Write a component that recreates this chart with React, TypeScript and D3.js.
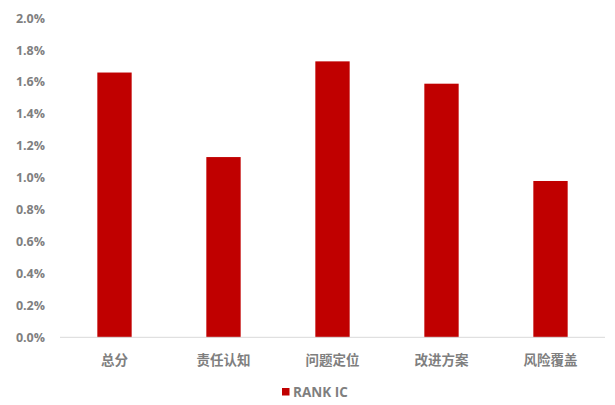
import React from "react";
import * as d3 from "d3";

const categories = ["总分", "责任认知", "问题定位", "改进方案", "风险覆盖"];
const rankIC = [1.66, 1.13, 1.73, 1.59, 0.98];
const yTicks = [0, 0.2, 0.4, 0.6, 0.8, 1.0, 1.2, 1.4, 1.6, 1.8, 2.0];
const seriesName = "RANK IC";

const W = 615;
const H = 405;
const FONT = "'Open Sans', 'Noto Sans CJK SC', sans-serif";
const TEXT = "#7f7f7f";
const BAR = "#C00000";

export default function App() {
  const x = d3.scaleBand<string>().domain(categories).range([60, 605]).paddingInner(0.685).paddingOuter(0.3425);
  const y = d3.scaleLinear().domain([0, 2.0]).range([337.3, 18.3]);

  return (
    <svg width={W} height={H} style={{ position: "absolute", left: 0, top: 0, background: "#fff" }} fontFamily={FONT}>
      <rect x={0} y={0} width={W} height={H} fill="#fff" />
      {yTicks.map((t) => (
        <text key={t} x={45} y={y(t)} dy="0.35em" textAnchor="end" fontSize={12.5} fontWeight={700} fill={TEXT}>
          {t.toFixed(1) + "%"}
        </text>
      ))}
      {categories.map((c, i) => (
        <rect key={c} x={x(c)} y={y(rankIC[i])} width={x.bandwidth()} height={y(0) - y(rankIC[i])} fill={BAR} />
      ))}
      <line x1={60} x2={605} y1={y(0)} y2={y(0)} stroke="#d9d9d9" strokeWidth={1} />
      {categories.map((c) => (
        <text key={c} x={(x(c) as number) + x.bandwidth() / 2} y={360} dy="0.35em" textAnchor="middle" fontSize={13.5} fontWeight={700} fill={TEXT} fontFamily="'Noto Sans CJK SC', sans-serif">
          {c}
        </text>
      ))}
      <rect x={282} y={388} width={7.5} height={7.5} fill={BAR} />
      <text x={293} y={392} dy="0.35em" fontSize={13.5} fontWeight={700} fill={TEXT}>
        {seriesName}
      </text>
    </svg>
  );
}
